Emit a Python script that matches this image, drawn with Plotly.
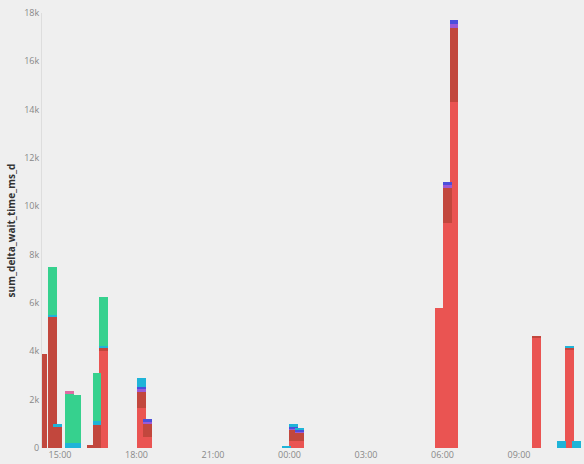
import plotly.graph_objects as go

# bar timestamps
times = [
    "2023-01-01 14:20", "2023-01-01 14:42", "2023-01-01 14:55", "2023-01-01 15:23",
    "2023-01-01 15:40", "2023-01-01 16:13", "2023-01-01 16:27", "2023-01-01 16:42",
    "2023-01-01 18:12", "2023-01-01 18:26", "2023-01-01 23:52", "2023-01-02 00:09",
    "2023-01-02 00:24", "2023-01-02 05:54", "2023-01-02 06:12", "2023-01-02 06:27",
    "2023-01-02 09:42", "2023-01-02 10:40", "2023-01-02 10:58", "2023-01-02 11:15",
]

# series values (ms), stacked bottom to top
red      = [0, 0, 0, 0, 0, 0, 0, 4000, 1650, 450, 0, 300, 300, 5800, 9300, 14300, 4550, 0, 4050, 0]
dark_red = [3900, 5450, 850, 0, 0, 120, 950, 150, 650, 550, 0, 450, 350, 0, 1450, 3100, 100, 0, 120, 0]
purple   = [0, 0, 0, 0, 0, 0, 0, 0, 150, 80, 0, 50, 50, 0, 150, 150, 0, 0, 0, 0]
blue     = [0, 0, 0, 0, 0, 0, 0, 0, 80, 120, 0, 70, 80, 0, 120, 150, 0, 0, 0, 0]
cyan     = [0, 50, 150, 200, 200, 0, 150, 80, 370, 0, 100, 130, 50, 0, 0, 0, 0, 300, 30, 300]
green    = [0, 2000, 0, 2050, 2000, 0, 2000, 2000, 0, 0, 0, 0, 0, 0, 0, 0, 0, 0, 0, 0]
pink     = [0, 0, 0, 100, 0, 0, 0, 0, 0, 0, 0, 0, 0, 0, 0, 0, 0, 0, 0, 0]

series = [
    ("red", red, "#ea5452"),
    ("dark_red", dark_red, "#c2473d"),
    ("purple", purple, "#9b5ad6"),
    ("blue", blue, "#4b4fdc"),
    ("cyan", cyan, "#1fb4d8"),
    ("green", green, "#36d18e"),
    ("pink", pink, "#e06ca4"),
]

bar_width_ms = 21 * 60 * 1000

fig = go.Figure()
for name, vals, color in series:
    fig.add_trace(go.Bar(
        x=times, y=vals, name=name,
        marker=dict(color=color, line=dict(width=0)),
        width=[bar_width_ms] * len(times),
    ))

fig.update_layout(
    barmode="stack",
    showlegend=False,
    width=584, height=464,
    margin=dict(l=42, r=0, t=13, b=16, autoexpand=False),
    paper_bgcolor="#efefef",
    plot_bgcolor="#efefef",
    font=dict(family="Open Sans, DejaVu Sans, sans-serif", size=9, color="#888888"),
    xaxis=dict(
        type="date",
        range=["2023-01-01 14:17:36", "2023-01-02 11:33"],
        tick0="2023-01-01 15:00", dtick=3 * 3600 * 1000,
        tickformat="%H:%M",
        showgrid=False, zeroline=False, showline=False,
        ticks="", tickfont=dict(size=9, color="#888888"),
        automargin=False, ticklabeloverflow="allow",
    ),
    yaxis=dict(
        range=[0, 18000],
        dtick=2000,
        tickformat="~s",
        showgrid=False, zeroline=False,
        showline=True, linecolor="#dddddd", linewidth=1,
        ticks="", tickfont=dict(size=9, color="#888888"),
        automargin=False, ticklabeloverflow="allow",
        title=dict(text="sum_delta_wait_time_ms_d",
                   font=dict(size=10, color="#333333", weight="bold"), standoff=6),
    ),
)

fig.write_html(
    "out.html",
    config={"displayModeBar": False},
    post_script="document.body.style.margin='0';document.body.style.background='#efefef';",
)
